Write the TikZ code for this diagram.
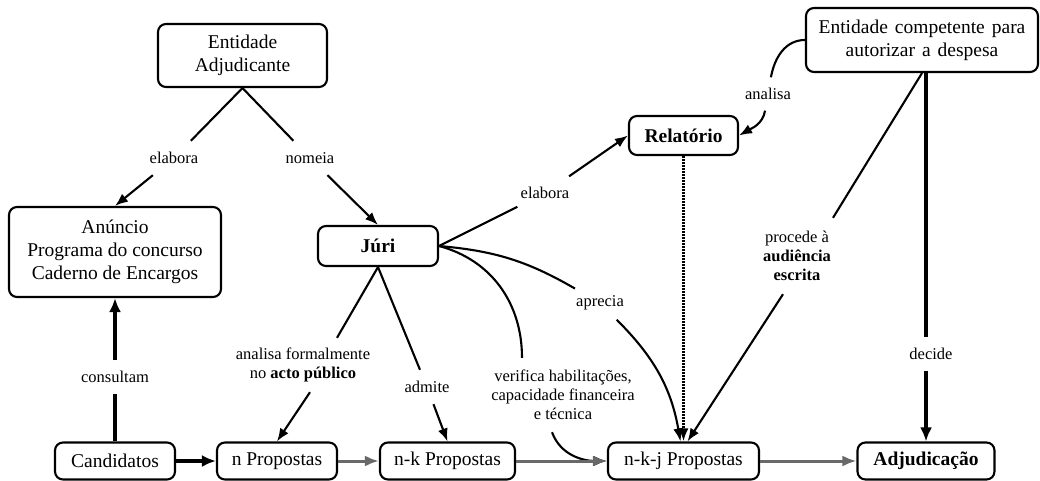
\documentclass[tikz,border=0pt]{standalone}
\usepackage{fontspec}
\setmainfont{LiberationSerif}[Extension=.ttf, UprightFont=*-Regular, BoldFont=*-Bold, ItalicFont=*-Italic, BoldItalicFont=*-BoldItalic]
\usetikzlibrary{arrows.meta}
\definecolor{arrgray}{RGB}{105,105,105}
\tikzset{
  box/.style={draw, line width=2.1pt, rounded corners=8pt, inner sep=0pt, align=center,
              font=\fontsize{19.5}{23}\selectfont},
  lbl/.style={inner sep=1pt, align=center, font=\fontsize{16.5}{19}\selectfont},
  conn/.style={line width=2.1pt},
  arr/.style={conn, -{Latex[length=13pt,width=10pt]}},
  heavy/.style={line width=3.8pt},
  heavyarr/.style={heavy, -{Latex[length=14pt,width=12pt]}},
  grayarr/.style={line width=3pt, draw=arrgray, -{Latex[length=14pt,width=11pt]}},
  dotarr/.style={line width=2.6pt, dash pattern=on 1.6pt off 1.4pt, -{Latex[length=13pt,width=10pt]}}
}
\begin{document}
\begin{tikzpicture}[x=1pt,y=-1pt]
\useasboundingbox (0,0) rectangle (1040,481);
% boxes
\node[box, minimum width=169pt, minimum height=63pt] (ea) at (242.5,55.5) {Entidade\\Adjudicante};
\node[box, minimum width=212pt, minimum height=90pt] (an) at (115,252) {Anúncio\\Programa do concurso\\Caderno de Encargos};
\node[box, minimum width=120pt, minimum height=40pt] (juri) at (378,246) {\textbf{Júri}};
\node[box, minimum width=109pt, minimum height=39pt] (rel) at (683.5,135.5) {\textbf{Relatório}};
\node[box, minimum width=232pt, minimum height=64pt] (ecomp) at (922,40) {\spaceskip=7pt plus 2pt Entidade competente para\\\spaceskip=7pt plus 2pt autorizar a despesa};
\node[box, minimum width=120pt, minimum height=37pt] (cand) at (115,461) {Candidatos};
\node[box, minimum width=120pt, minimum height=37pt] (np) at (277,461) {n Propostas};
\node[box, minimum width=135pt, minimum height=37pt] (nk) at (447.5,461) {n-k Propostas};
\node[box, minimum width=151pt, minimum height=37pt] (nkj) at (683.5,461) {n-k-j Propostas};
\node[box, minimum width=137pt, minimum height=37pt] (adj) at (926,461) {\textbf{Adjudicação}};
% labels
\node[lbl, minimum height=34pt] (el1) at (174,158) {elabora};
\node[lbl, minimum height=34pt] (nom) at (310,158) {nomeia};
\node[lbl, minimum height=33pt, minimum width=55pt] (el2) at (545,193) {elabora};
\node[lbl, minimum height=33pt] (ana) at (768,94) {analisa};
\node[lbl, minimum height=33pt] (apr) at (600,303) {aprecia};
\node[lbl, minimum height=74pt] (ver) at (563,395) {verifica habilitações,\\capacidade financeira\\e técnica};
\node[lbl, minimum height=54pt] (afl) at (303,365) {analisa formalmente\\no \textbf{acto público}};
\node[lbl, minimum height=34pt] (adm) at (427,387) {admite};
\node[lbl, minimum height=33pt] (cons) at (115,377) {consultam};
\node[lbl, minimum height=33pt] (dec) at (931,354) {decide};
\node[lbl, minimum height=76pt] (proc) at (797,256) {procede à\\\textbf{audiência}\\\textbf{escrita}};
% connectors
\draw[conn] (ea.south) -- (el1);
\draw[arr] (el1) -- (an.north);
\draw[conn] (ea.south) -- (nom);
\draw[arr] (nom) -- (juri.north);
\draw[conn] (juri.east) -- (el2);
\draw[arr] (el2) -- (rel.west);
\draw[conn] (ecomp.west) to[out=180,in=80] (ana);
\draw[arr] (ana) to[out=-100,in=30] (rel.east);
\draw[dotarr] (rel.south) -- (nkj.north);
\draw[heavy] (adj.north |- ecomp.south) -- (adj.north |- dec.north);
\draw[heavyarr] (adj.north |- dec.south) -- (adj.north);
\draw[conn] (ecomp.south) -- ([xshift=36pt]proc.north);
\draw[arr] ([xshift=-14pt]proc.south) -- ([xshift=4pt]nkj.north);
\draw[conn] (juri.east) to[out=-5,in=150] (apr);
\draw[arr] (apr) to[out=-45,in=100] ([xshift=-3pt]nkj.north);
\draw[conn] (juri.east) to[out=-15,in=90] ([xshift=-41pt]ver.north);
\draw[arr] ([xshift=-11pt]ver.south) to[out=-70,in=180] (nkj.west);
\draw[conn] (juri.south) -- ([xshift=34pt]afl.north);
\draw[arr] ([xshift=7pt]afl.south) -- (np.north);
\draw[conn] (juri.south) -- (adm);
\draw[arr] (adm) -- (nk.north);
\draw[heavy] (cand.north) -- (cons);
\draw[heavyarr] (cons) -- (an.south);
\draw[heavyarr] (cand.east) -- (np.west);
\draw[grayarr] (np.east) -- (nk.west);
\draw[grayarr] (nk.east) -- (nkj.west);
\draw[grayarr] (nkj.east) -- (adj.west);
\end{tikzpicture}
\end{document}
